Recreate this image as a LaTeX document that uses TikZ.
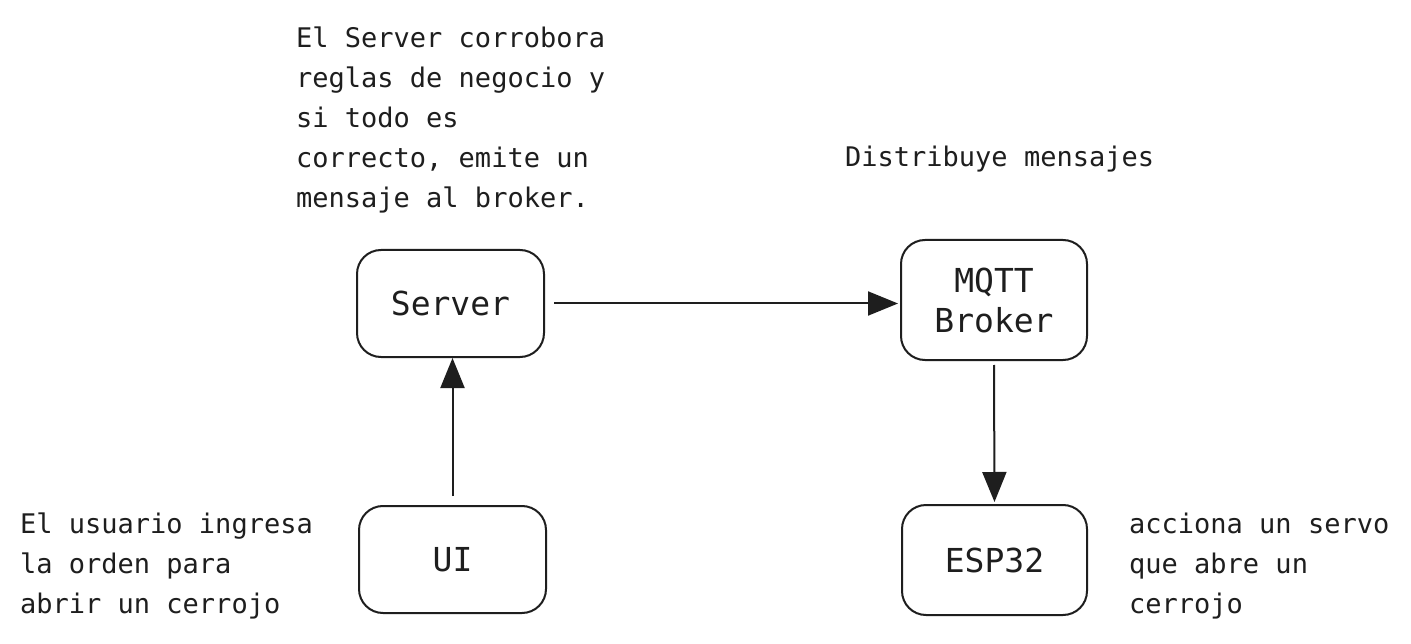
\documentclass[tikz,border=0pt]{standalone}
\usepackage{fontspec}
\newfontfamily\handfont{DejaVu Sans Mono}
\usetikzlibrary{arrows.meta}
\definecolor{ink}{HTML}{1E1E1E}
\newcommand\txtblock[1]{\begin{tabular}[t]{@{}l@{}}#1\end{tabular}}
\tikzset{
  box/.style={draw=ink, line width=2pt, rounded corners=24pt, fill=white,
    align=center, text=ink, inner sep=0pt,
    font=\handfont\fontsize{33}{40}\selectfont},
  note/.style={anchor=base west, inner sep=0pt, text=ink,
    font=\handfont\fontsize{27}{40}\selectfont},
  arr/.style={draw=ink, line width=2pt, -{Triangle[length=30pt,width=24pt]}}
}
\begin{document}
\begin{tikzpicture}[x=1pt,y=-1pt]
\useasboundingbox[fill=white] (0,0) rectangle (1411,644);
% boxes
\node[box, minimum width=187pt, minimum height=107pt] (server) at (450.5,303.5) {Server};
\node[box, minimum width=186pt, minimum height=120pt] (broker) at (994,300) {MQTT\\Broker};
\node[box, minimum width=187pt, minimum height=107pt] (ui) at (452.5,559.5) {UI};
\node[box, minimum width=185pt, minimum height=110pt] (esp) at (994.5,560) {ESP32};
% notes
\node[note] (nserver) at (296,48) {\txtblock{El Server corrobora\\reglas de negocio y\\si todo es\\correcto, emite un\\mensaje al broker.}};
\node[note] (nbroker) at (845,167) {Distribuye mensajes};
\node[note] (nui) at (20,533) {\txtblock{El usuario ingresa\\la orden para\\abrir un cerrojo}};
\node[note] (nesp) at (1129,533) {\txtblock{acciona un servo\\que abre un\\cerrojo}};
% connectors
\draw[arr] ([yshift=9pt]ui.north) -- (ui.north |- server.south);
\draw[arr, shorten >=2pt] ([xshift=9pt]server.east) -- (broker.west |- server.east);
\draw[arr, shorten >=2pt] ([yshift=-4pt]broker.south) -- (esp.north);
\end{tikzpicture}
\end{document}
